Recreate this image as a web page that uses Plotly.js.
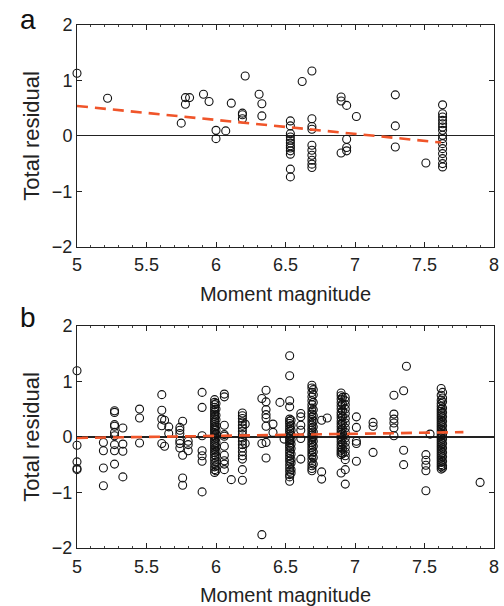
<!DOCTYPE html>
<html>
<head>
<meta charset="utf-8">
<script src="https://cdn.plot.ly/plotly-3.0.1.min.js"></script>
<style>html,body{margin:0;padding:0;background:#fff;}#chart{width:504px;height:606px;}</style>
</head>
<body>
<div id="chart"></div>
<script>
// ---- Panel a: moment magnitude columns and their total residuals ----
const aMagnitudes = [5.0, 5.22, 5.75, 5.78, 5.81, 5.91, 5.95, 6.0, 6.07, 6.11, 6.21, 6.19, 6.31, 6.33, 6.535, 6.62, 6.69, 6.90, 6.94, 7.01, 7.29, 7.51, 7.63];
const aResiduals = [
  [1.13],
  [0.68],
  [0.23],
  [0.69, 0.57],
  [0.69],
  [0.75],
  [0.62],
  [0.10, -0.05],
  [0.09],
  [0.59],
  [1.08],
  [0.41, 0.38, 0.31],
  [0.75],
  [0.58, 0.36],
  [0.27, 0.18, 0.04, -0.02, -0.08, -0.13, -0.18, -0.22, -0.27, -0.33, -0.60, -0.74],
  [0.98],
  [1.17, 0.31, 0.17, 0.12, -0.17, -0.26, -0.35, -0.44, -0.51, -0.57],
  [0.70, 0.63, -0.31],
  [0.55, -0.06, -0.21, -0.27],
  [0.35],
  [0.74, 0.18, -0.20],
  [-0.49],
  [0.56, 0.40, 0.34, 0.28, 0.22, 0.16, 0.10, 0.01, -0.05, -0.14, -0.23, -0.32, -0.41, -0.50, -0.56]
];
const aFitMw = [5.0, 7.62];
const aFitResidual = [0.54, -0.12];

// ---- Panel b ----
const bMagnitudes = [5.0, 5.19, 5.27, 5.33, 5.45, 5.61, 5.63, 5.66, 5.74, 5.76, 5.80, 5.90, 5.99, 6.00, 6.06, 6.11, 6.19, 6.21, 6.33, 6.36, 6.41, 6.46, 6.49, 6.53, 6.54, 6.61, 6.69, 6.70, 6.76, 6.80, 6.90, 6.91, 6.93, 7.01, 7.13, 7.28, 7.35, 7.37, 7.51, 7.54, 7.62, 7.63, 7.90];
const bResiduals = [
  [1.19, -0.15, -0.45, -0.57, -0.59],
  [-0.10, -0.25, -0.56, -0.88],
  [0.47, 0.44, 0.22, 0.19, 0.08, 0.02, -0.14, -0.25, -0.49],
  [0.16, -0.13, -0.26, -0.72],
  [0.50, 0.34, -0.11],
  [0.76, 0.48, 0.32, 0.20, -0.12],
  [0.30, -0.17],
  [0.18, 0.06],
  [0.17, 0.12, 0.06, -0.07, -0.12, -0.20],
  [0.28, -0.33, -0.74, -0.87],
  [-0.08, -0.14, -0.25],
  [0.80, 0.53, 0.02, -0.25, -0.34, -0.44, -0.99],
  [0.67, 0.62, 0.58, 0.53, 0.49, 0.45, 0.41, 0.37, 0.33, 0.29, 0.26, 0.22, 0.18, 0.14, 0.11, 0.07, 0.03, 0.00, -0.04, -0.08, -0.12, -0.16, -0.20, -0.24, -0.28, -0.32, -0.37, -0.42, -0.48, -0.54, -0.59, -0.64],
  [0.60, 0.50, 0.39, 0.31, 0.20, 0.12, 0.05, -0.02, -0.10, -0.18, -0.26, -0.35, -0.45, -0.52, -0.61],
  [0.77, 0.72, 0.21, 0.04, 0.01, -0.17, -0.33, -0.43, -0.49, -0.59],
  [-0.77],
  [0.43, 0.38, 0.33, 0.27, 0.21, 0.16, 0.10, 0.04, -0.02, -0.08, -0.14, -0.20, -0.27, -0.34, -0.40, -0.59, -0.78],
  [0.23, -0.12],
  [0.69, -0.12, -1.76],
  [0.84, 0.63, 0.49, 0.40, 0.34, 0.19, -0.10, -0.38],
  [0.23, 0.08],
  [0.62],
  [-0.04],
  [1.46, 1.10, 0.65, 0.54, 0.32, 0.28, 0.24, 0.19, 0.14, 0.10, 0.05, 0.01, -0.03, -0.07, -0.11, -0.15, -0.19, -0.24, -0.29, -0.34, -0.39, -0.44, -0.50, -0.56, -0.62, -0.68, -0.72, -0.80],
  [0.30, 0.21, 0.12, 0.03, -0.05, -0.13, -0.21, -0.31, -0.41, -0.47, -0.59, -0.65],
  [0.42, 0.36, 0.21, 0.12, -0.03, -0.40],
  [0.93, 0.88, 0.80, 0.72, 0.65, 0.58, 0.52, 0.46, 0.41, 0.36, 0.31, 0.26, 0.21, 0.16, 0.12, 0.07, 0.03, -0.01, -0.05, -0.10, -0.14, -0.19, -0.24, -0.29, -0.34, -0.40, -0.46, -0.52, -0.57, -0.61],
  [0.85, 0.76, 0.62, 0.49, 0.38, 0.28, 0.18, 0.09, 0.00, -0.08, -0.17, -0.27, -0.37, -0.49],
  [0.30, -0.63, -0.76],
  [0.34],
  [0.79, 0.74, 0.68, 0.62, 0.56, 0.50, 0.44, 0.39, 0.34, 0.28, 0.23, 0.18, 0.13, 0.08, 0.04, 0.00, -0.04, -0.09, -0.14, -0.19, -0.24, -0.28, -0.32, -0.65],
  [0.71, 0.59, 0.47, 0.36, 0.25, 0.15, 0.06, -0.02, -0.12, -0.22, -0.30],
  [0.71, 0.65, 0.58, 0.50, 0.42, 0.33, 0.25, 0.16, 0.08, -0.02, -0.10, -0.19, -0.27, -0.34, -0.41, -0.59, -0.85],
  [0.36, 0.17, -0.08, -0.12, -0.44],
  [0.26, 0.19, -0.28],
  [0.75, 0.41, 0.32, 0.25, 0.16, 0.02],
  [0.83, -0.24, -0.50],
  [1.27],
  [-0.32, -0.42, -0.51, -0.61, -0.97],
  [0.05],
  [0.87, 0.75, 0.66, 0.60, 0.55, 0.50, 0.46, 0.42, 0.38, 0.34, 0.30, 0.26, 0.22, 0.18, 0.14, 0.10, 0.06, 0.02, -0.02, -0.06, -0.10, -0.14, -0.18, -0.22, -0.26, -0.30, -0.34, -0.38, -0.42, -0.46, -0.50, -0.54, -0.58],
  [0.80, 0.70, 0.63, 0.52, 0.44, 0.36, 0.28, 0.20, 0.12, 0.04, -0.04, -0.12, -0.20, -0.28, -0.36, -0.44, -0.52, -0.56],
  [-0.82]
];
const bFitMw = [5.0, 7.78];
const bFitResidual = [-0.02, 0.085];

const xTickVals = [5, 5.5, 6, 6.5, 7, 7.5, 8];
const xTickText = ['5', '5.5', '6', '6.5', '7', '7.5', '8'];
const yTickVals = [-2, -1, 0, 1, 2];
const yTickText = ['\u22122', '\u22121', '0', '1', '2'];

function expand(mags, res) {
  const xs = [], ys = [];
  mags.forEach((m, i) => res[i].forEach(v => { xs.push(m); ys.push(v); }));
  return {xs, ys};
}
const A = expand(aMagnitudes, aResiduals);
const B = expand(bMagnitudes, bResiduals);

const markerStyle = {symbol: 'circle-open', size: 8, color: '#111', line: {width: 1.1, color: '#111'}};
const fitStyle = {color: '#f0552a', width: 2.6, dash: '11px,7px'};

const traces = [
  {x: A.xs, y: A.ys, type: 'scatter', mode: 'markers', marker: markerStyle, xaxis: 'x', yaxis: 'y', cliponaxis: false, hoverinfo: 'skip'},
  {x: aFitMw, y: aFitResidual, type: 'scatter', mode: 'lines', line: fitStyle, xaxis: 'x', yaxis: 'y', hoverinfo: 'skip'},
  {x: B.xs, y: B.ys, type: 'scatter', mode: 'markers', marker: markerStyle, xaxis: 'x2', yaxis: 'y2', cliponaxis: false, hoverinfo: 'skip'},
  {x: bFitMw, y: bFitResidual, type: 'scatter', mode: 'lines', line: fitStyle, xaxis: 'x2', yaxis: 'y2', hoverinfo: 'skip'}
];

const font = {family: 'Liberation Sans, Arial, sans-serif', color: '#222'};
function xAxis(anchor) {
  return {
    anchor: anchor, domain: [0, 1], range: [5, 8],
    tickvals: xTickVals, ticktext: xTickText,
    ticks: 'inside', ticklen: 5, tickwidth: 1, tickcolor: '#222',
    minor: {dtick: 0.1, ticks: 'inside', ticklen: 2, tickwidth: 1, tickcolor: '#444'},
    showline: true, linecolor: '#222', linewidth: 1, mirror: 'ticks',
    showgrid: false, zeroline: false,
    ticklabelstandoff: 2,
    tickfont: {family: font.family, size: 18, color: '#222'},
    title: {text: 'Moment magnitude', font: {family: font.family, size: 20, color: '#222'}, standoff: 12},
    automargin: false, fixedrange: true
  };
}
function yAxis(anchor, domain, zw) {
  return {
    anchor: anchor, domain: domain, range: [-2, 2],
    tickvals: yTickVals, ticktext: yTickText,
    ticks: 'inside', ticklen: 5, tickwidth: 1, tickcolor: '#222',
    showline: true, linecolor: '#222', linewidth: 1, mirror: 'ticks',
    showgrid: false,
    zeroline: true, zerolinecolor: '#222', zerolinewidth: zw,
    tickfont: {family: font.family, size: 18, color: '#222'},
    title: {text: 'Total residual', font: {family: font.family, size: 22, color: '#222'}, standoff: 6},
    automargin: false, fixedrange: true
  };
}

const layout = {
  width: 504, height: 606,
  margin: {l: 77, r: 10, t: 25, b: 58},
  paper_bgcolor: '#fff', plot_bgcolor: '#fff',
  showlegend: false,
  font: font,
  xaxis: xAxis('y'),
  yaxis: yAxis('x', [0.576, 1], 1),
  xaxis2: xAxis('y2'),
  yaxis2: yAxis('x2', [0, 0.425], 2),
  annotations: [
    {text: 'a', xref: 'paper', yref: 'paper', x: -0.1175, y: 1.01, xanchor: 'center', yanchor: 'middle', showarrow: false, font: {family: font.family, size: 28, color: '#111'}},
    {text: 'b', xref: 'paper', yref: 'paper', x: -0.1175, y: 0.4398, xanchor: 'center', yanchor: 'middle', showarrow: false, font: {family: font.family, size: 28, color: '#111'}}
  ]
};

Plotly.newPlot('chart', traces, layout, {displayModeBar: false, staticPlot: true});
</script>
</body>
</html>
